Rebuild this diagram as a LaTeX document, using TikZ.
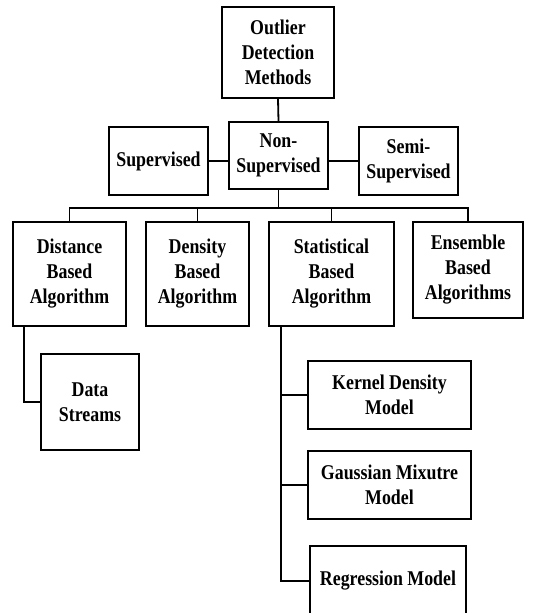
\documentclass[tikz,border=0pt]{standalone}
\usepackage{fontspec}
\setmainfont{Liberation Serif}[FakeStretch=0.85]
\begin{document}
\begin{tikzpicture}[x=1pt,y=-1pt,
  box/.style={draw, line width=1.8pt, align=center, inner sep=0pt,
    font=\fontsize{21}{25}\selectfont\bfseries},
  link/.style={line width=1.8pt}]
\clip (0,0) rectangle (533,613);
\fill[white] (0,0) rectangle (533,613);
\node[box, minimum width=112, minimum height=91] (odm) at (278,52.5) {Outlier\\Detection\\Methods};
\node[box, minimum width=99, minimum height=67] (nonsup) at (278.5,155.5) {Non-\\Supervised};
\node[box, minimum width=99, minimum height=68] (sup) at (158.5,161) {Supervised};
\node[box, minimum width=99, minimum height=68] (semi) at (408.5,161) {Semi-\\Supervised};
\node[box, minimum width=113, minimum height=104] (dist) at (69.5,274) {Distance\\Based\\Algorithm};
\node[box, minimum width=103, minimum height=104] (dens) at (197.5,274) {Density\\Based\\Algorithm};
\node[box, minimum width=125, minimum height=104] (stat) at (331.5,274) {Statistical\\Based\\Algorithm};
\node[box, minimum width=110, minimum height=96] (ens) at (468,270) {Ensemble\\Based\\Algorithms};
\node[box, minimum width=98, minimum height=96] (ds) at (90,402) {Data\\Streams};
\node[box, minimum width=163, minimum height=68] (kde) at (389.5,395) {Kernel Density\\Model};
\node[box, minimum width=163, minimum height=68] (gmm) at (389.5,485) {Gaussian Mixutre\\Model};
\node[box, minimum width=156, minimum height=70] (reg) at (388,581) {Regression Model};
\coordinate (bus) at (0,208);
\draw[link] (odm.south) -- (nonsup.north);
\draw[link] (sup.east) -- (nonsup.west |- sup.east);
\draw[link] (semi.west) -- (nonsup.east |- semi.west);
\draw[link] (nonsup.south) -- (nonsup.south |- bus);
\draw[link] (dist.north) -- (dist.north |- bus) -- (ens.north |- bus) -- (ens.north);
\draw[link] (dens.north) -- (dens.north |- bus);
\draw[link] (stat.north) -- (stat.north |- bus);
\draw[link] ([xshift=12pt]dist.south west) |- (ds.west);
\draw[link] ([xshift=13pt]stat.south west) |- (reg.west);
\draw[link] ([xshift=13pt]stat.south west) |- (kde.west);
\draw[link] ([xshift=13pt]stat.south west) |- (gmm.west);
\end{tikzpicture}
\end{document}
